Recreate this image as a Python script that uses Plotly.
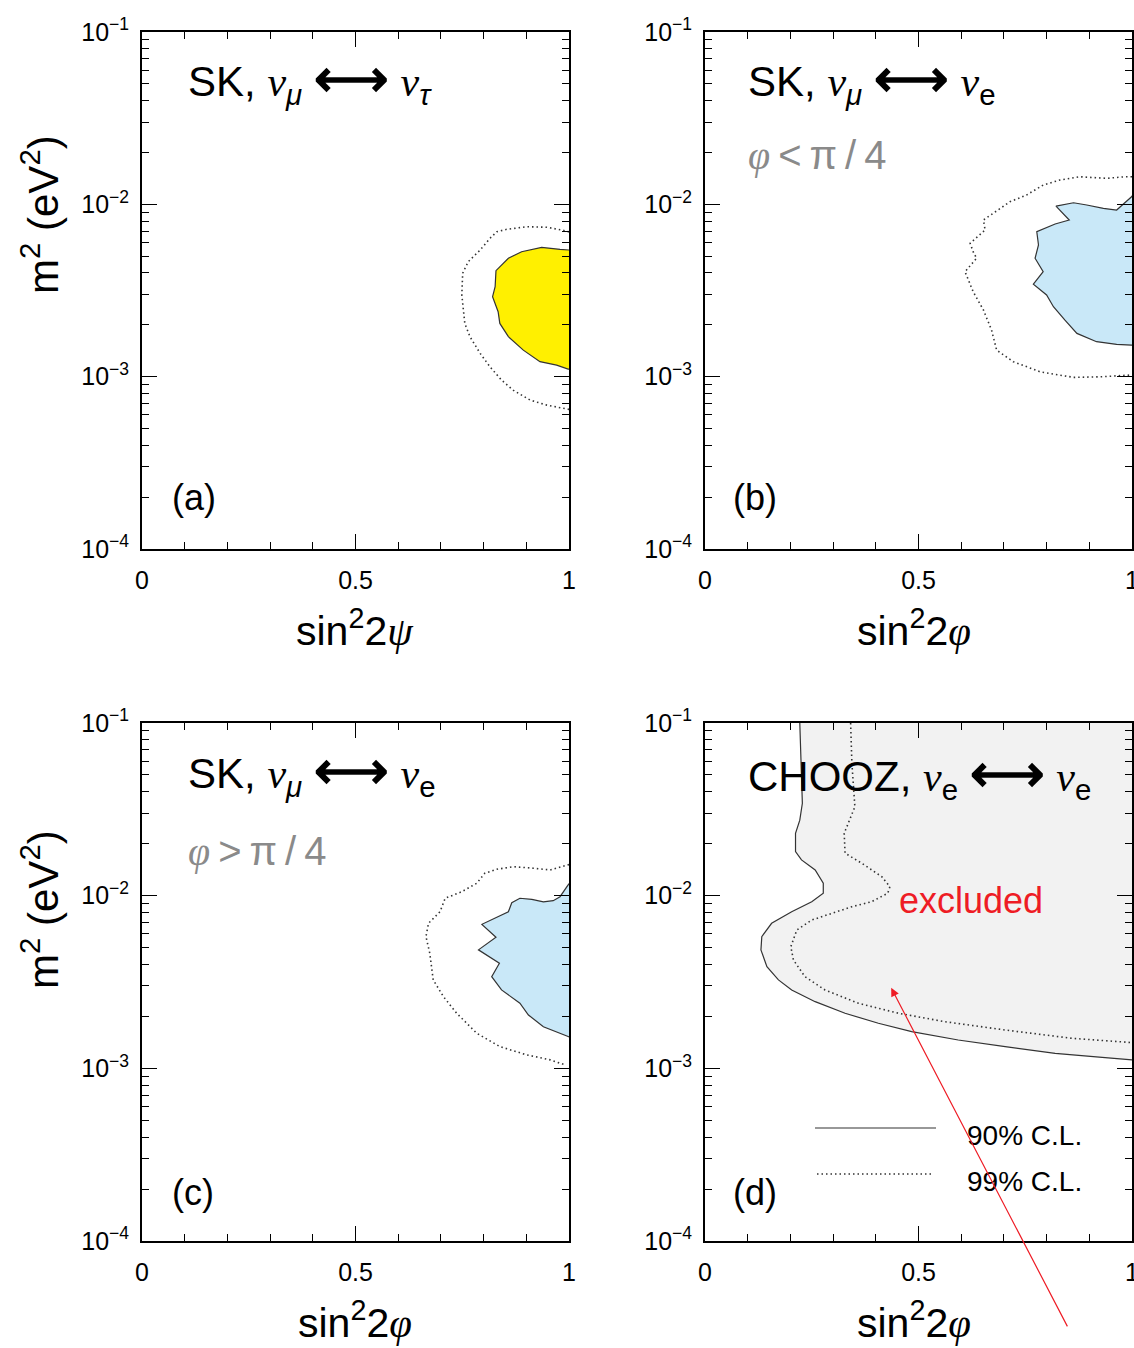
import numpy as np
import plotly.graph_objects as go

W, H = 1134, 1348

# ---------------- data (x = sin^2 2angle, y = log10 m^2 [eV^2]) ----------------
a90_x = [1.0, 0.998, 0.979, 0.936, 0.889, 0.858, 0.829, 0.827, 0.821, 0.834, 0.838, 0.858, 0.893, 0.932, 0.971, 0.998, 1.0]
a90_logm2 = [-2.265, -2.265, -2.261, -2.250, -2.275, -2.313, -2.385, -2.478, -2.536, -2.623, -2.691, -2.768, -2.846, -2.913, -2.933, -2.956, -2.956]
a99_x = [1.0, 0.983, 0.948, 0.901, 0.854, 0.831, 0.815, 0.792, 0.764, 0.751, 0.749, 0.756, 0.768, 0.792, 0.815, 0.842, 0.869, 0.909, 0.948, 0.983, 1.0]
a99_logm2 = [-2.160, -2.149, -2.133, -2.130, -2.145, -2.159, -2.197, -2.265, -2.333, -2.400, -2.526, -2.691, -2.768, -2.865, -2.943, -3.020, -3.078, -3.136, -3.165, -3.184, -3.190]

b90_x = [1.0, 0.999, 0.964, 0.933, 0.894, 0.863, 0.822, 0.853, 0.820, 0.777, 0.781, 0.773, 0.792, 0.769, 0.800, 0.816, 0.843, 0.871, 0.917, 0.964, 0.999, 1.0]
b90_logm2 = [-1.950, -1.956, -2.033, -2.023, -2.004, -1.991, -2.010, -2.091, -2.114, -2.159, -2.236, -2.313, -2.391, -2.463, -2.526, -2.594, -2.672, -2.749, -2.797, -2.813, -2.817, -2.817]
b99_x = [1.0, 0.984, 0.941, 0.878, 0.831, 0.792, 0.753, 0.714, 0.675, 0.652, 0.656, 0.621, 0.628, 0.636, 0.609, 0.628, 0.652, 0.671, 0.683, 0.722, 0.785, 0.863, 0.925, 0.980, 1.0]
b99_logm2 = [-1.840, -1.840, -1.849, -1.840, -1.859, -1.888, -1.946, -1.985, -2.052, -2.091, -2.149, -2.226, -2.275, -2.313, -2.391, -2.507, -2.613, -2.729, -2.846, -2.913, -2.972, -3.004, -3.001, -2.991, -2.990]

c90_x = [1.0, 0.998, 0.979, 0.963, 0.940, 0.913, 0.885, 0.866, 0.858, 0.831, 0.796, 0.829, 0.788, 0.837, 0.819, 0.842, 0.885, 0.905, 0.940, 0.998, 1.0]
c90_logm2 = [-1.930, -1.938, -2.006, -2.029, -2.036, -2.021, -2.015, -2.041, -2.093, -2.125, -2.166, -2.241, -2.314, -2.391, -2.469, -2.546, -2.623, -2.691, -2.759, -2.816, -2.818]
c99_x = [1.0, 0.987, 0.956, 0.916, 0.870, 0.831, 0.803, 0.784, 0.749, 0.710, 0.698, 0.671, 0.665, 0.674, 0.682, 0.706, 0.737, 0.784, 0.838, 0.901, 0.956, 0.991]
c99_logm2 = [-1.820, -1.828, -1.851, -1.841, -1.832, -1.847, -1.870, -1.928, -1.977, -2.015, -2.093, -2.160, -2.237, -2.334, -2.488, -2.585, -2.681, -2.797, -2.874, -2.922, -2.951, -2.980]

d90_x = [0.222, 0.225, 0.228, 0.222, 0.212, 0.212, 0.226, 0.258, 0.277, 0.277, 0.250, 0.203, 0.156, 0.133, 0.131, 0.145, 0.172, 0.203, 0.258, 0.328, 0.406, 0.484, 0.593, 0.703, 0.820, 0.937, 1.0]
d90_logm2 = [-1.0, -1.272, -1.465, -1.563, -1.639, -1.745, -1.793, -1.851, -1.928, -1.986, -2.035, -2.093, -2.160, -2.237, -2.314, -2.411, -2.488, -2.546, -2.614, -2.681, -2.739, -2.787, -2.836, -2.874, -2.913, -2.938, -2.951]
d99_x = [0.341, 0.344, 0.351, 0.336, 0.326, 0.328, 0.367, 0.414, 0.433, 0.428, 0.390, 0.344, 0.297, 0.250, 0.215, 0.201, 0.207, 0.234, 0.281, 0.359, 0.453, 0.562, 0.703, 0.859, 1.0]
d99_logm2 = [-1.0, -1.233, -1.485, -1.581, -1.639, -1.754, -1.812, -1.890, -1.948, -1.986, -2.035, -2.064, -2.102, -2.141, -2.199, -2.295, -2.372, -2.469, -2.546, -2.623, -2.681, -2.730, -2.778, -2.826, -2.851]

x_tick_vals = [0, 0.5, 1]
x_tick_text = ["0", "0.5", "1"]
x_minor_vals = [0.1, 0.2, 0.3, 0.4, 0.6, 0.7, 0.8, 0.9]
y_tick_vals = [1e-4, 1e-3, 1e-2, 1e-1]
y_tick_text = ["10<sup>\u22124</sup>", "10<sup>\u22123</sup>", "10<sup>\u22122</sup>", "10<sup>\u22121</sup>"]
y_minor_vals = [m * 10.0 ** e for e in (-4, -3, -2) for m in range(2, 10)]

legend_labels = ["90% C.L.", "99% C.L."]

YELLOW = "#fff000"
BLUE = "#c9e8f8"
GREY = "#f2f2f2"
LINEC = "#333333"
FONT = "Liberation Sans"
DOT = "1.5px,3px"


def px(x):
    return x / W


def py(y):
    return 1 - y / H


def ser(s):
    return "<span style='font-family:Liberation Serif'><i>" + s + "</i></span>"


fig = go.Figure()

panels = [
    ("", (142, 569), (32, 549)),
    ("2", (705, 1132), (32, 549)),
    ("3", (142, 569), (723, 1241)),
    ("4", (705, 1132), (723, 1241)),
]

for suf, (x0, x1), (y0, y1) in panels:
    xa = dict(domain=[px(x0), px(x1)], range=[0, 1], showgrid=False, zeroline=False, automargin=False,
              showline=True, linecolor="black", linewidth=2, mirror="ticks",
              ticks="inside", ticklen=15, tickwidth=1, tickcolor="black",
              tickmode="array", tickvals=x_tick_vals, ticktext=x_tick_text,
              tickfont=dict(family=FONT, size=25, color="black"), ticklabelstandoff=8,
              ticklabeloverflow="allow",
              minor=dict(tickmode="array", tickvals=x_minor_vals, ticks="inside", ticklen=7,
                         tickwidth=1, tickcolor="black", showgrid=False),
              anchor="y" + suf, fixedrange=True)
    ya = dict(domain=[py(y1), py(y0)], type="log", range=[-4, -1], showgrid=False, zeroline=False,
              automargin=False,
              showline=True, linecolor="black", linewidth=2, mirror="ticks",
              ticks="inside", ticklen=15, tickwidth=1, tickcolor="black",
              tickmode="array", tickvals=y_tick_vals, ticktext=y_tick_text,
              tickfont=dict(family=FONT, size=25, color="black"), ticklabelstandoff=6,
              ticklabeloverflow="allow",
              minor=dict(tickmode="array", tickvals=y_minor_vals, ticks="inside", ticklen=7,
                         tickwidth=1, tickcolor="black", showgrid=False),
              anchor="x" + suf, fixedrange=True)
    fig.update_layout(**{"xaxis" + suf: xa, "yaxis" + suf: ya})


def m2(v):
    return np.power(10.0, np.array(v))


def add_fill_line(xs, ys, xax, yax, fill, dash="solid"):
    fig.add_trace(go.Scatter(x=xs, y=m2(ys), xaxis=xax, yaxis=yax, mode="lines",
                             fill="toself" if fill else None, fillcolor=fill,
                             line=dict(color=LINEC, width=1.2 if dash == "solid" else 1.6, dash=dash),
                             showlegend=False, hoverinfo="skip"))


add_fill_line(a99_x, a99_logm2, "x", "y", None, dash=DOT)
add_fill_line(a90_x, a90_logm2, "x", "y", YELLOW)
add_fill_line(b99_x, b99_logm2, "x2", "y2", None, dash=DOT)
add_fill_line(b90_x, b90_logm2, "x2", "y2", BLUE)
add_fill_line(c99_x, c99_logm2, "x3", "y3", None, dash=DOT)
add_fill_line(c90_x, c90_logm2, "x3", "y3", BLUE)
fig.add_trace(go.Scatter(x=d90_x + [1.0, 1.0], y=np.concatenate([m2(d90_logm2), [1e-1, 1e-1]]),
                         xaxis="x4", yaxis="y4", mode="lines", fill="toself", fillcolor=GREY,
                         line=dict(width=0, color=GREY), showlegend=False, hoverinfo="skip"))
fig.add_trace(go.Scatter(x=d90_x, y=m2(d90_logm2), xaxis="x4", yaxis="y4", mode="lines",
                         line=dict(color=LINEC, width=1.2), showlegend=False, hoverinfo="skip"))
fig.add_trace(go.Scatter(x=d99_x, y=m2(d99_logm2), xaxis="x4", yaxis="y4", mode="lines",
                         line=dict(color=LINEC, width=1.6, dash=DOT), showlegend=False, hoverinfo="skip"))

ann = []


def text(x, y, t, size, color="black", xanchor="left", textangle=0, family=FONT):
    ann.append(dict(x=px(x), y=py(y), xref="paper", yref="paper", text=t, showarrow=False,
                    xanchor=xanchor, yanchor="middle", textangle=textangle,
                    font=dict(family=family, size=size, color=color)))


arrow = " <span style='font-size:52px'><b>\u27f7</b></span> "
nu = ser("\u03bd")
text(186, 80, "SK, " + nu + "<sub><i>\u03bc</i></sub>" + arrow + nu + "<sub><i>\u03c4</i></sub>", 42)
text(746, 80, "SK, " + nu + "<sub><i>\u03bc</i></sub>" + arrow + nu + "<sub>e</sub>", 42)
text(186, 772, "SK, " + nu + "<sub><i>\u03bc</i></sub>" + arrow + nu + "<sub>e</sub>", 42)
text(746, 775, "CHOOZ, " + nu + "<sub>e</sub>" + arrow + nu + "<sub>e</sub>", 42)
ts = "\u2009"
text(746, 155, ser("\u03c6") + ts + "<" + ts + "\u03c0" + ts + "/" + ts + "4", 40, color="#8a8a8a")
text(186, 852, ser("\u03c6") + ts + ">" + ts + "\u03c0" + ts + "/" + ts + "4", 40, color="#8a8a8a")
text(170, 497, "(a)", 36)
text(731, 497, "(b)", 36)
text(170, 1192, "(c)", 36)
text(731, 1192, "(d)", 36)
text(971, 900, "excluded", 36, color="#ee1c25", xanchor="center")
text(965, 1135, legend_labels[0], 28)
text(965, 1181, legend_labels[1], 28)

for cx, cy, lab in [(355, 628, "sin<sup>2</sup>2" + ser("\u03c8")), (914, 628, "sin<sup>2</sup>2" + ser("\u03c6")),
                    (355, 1320, "sin<sup>2</sup>2" + ser("\u03c6")), (914, 1320, "sin<sup>2</sup>2" + ser("\u03c6"))]:
    text(cx, cy, lab, 41, xanchor="center")
for cy in (215, 910):
    text(40, cy, "m<sup>2</sup> (eV<sup>2</sup>)", 42, xanchor="center", textangle=-90)

ann.append(dict(x=0.436, y=-2.534, xref="x4", yref="y4", ax=177, ay=340, axref="pixel", ayref="pixel",
                showarrow=True, arrowhead=2, arrowsize=1.4, arrowwidth=1.2, arrowcolor="#ee1c25", text=""))

fig.update_layout(annotations=ann)

fig.add_shape(type="line", xref="paper", yref="paper", x0=px(815), x1=px(936), y0=py(1128), y1=py(1128),
              line=dict(color=LINEC, width=1.2))
fig.add_shape(type="line", xref="paper", yref="paper", x0=px(817), x1=px(934), y0=py(1174), y1=py(1174),
              line=dict(color=LINEC, width=1.5, dash=DOT))

fig.update_layout(width=W, height=H, margin=dict(l=0, r=0, t=0, b=0),
                  paper_bgcolor="white", plot_bgcolor="white", showlegend=False)

fig.write_html("out.html", config={"displayModeBar": False})
